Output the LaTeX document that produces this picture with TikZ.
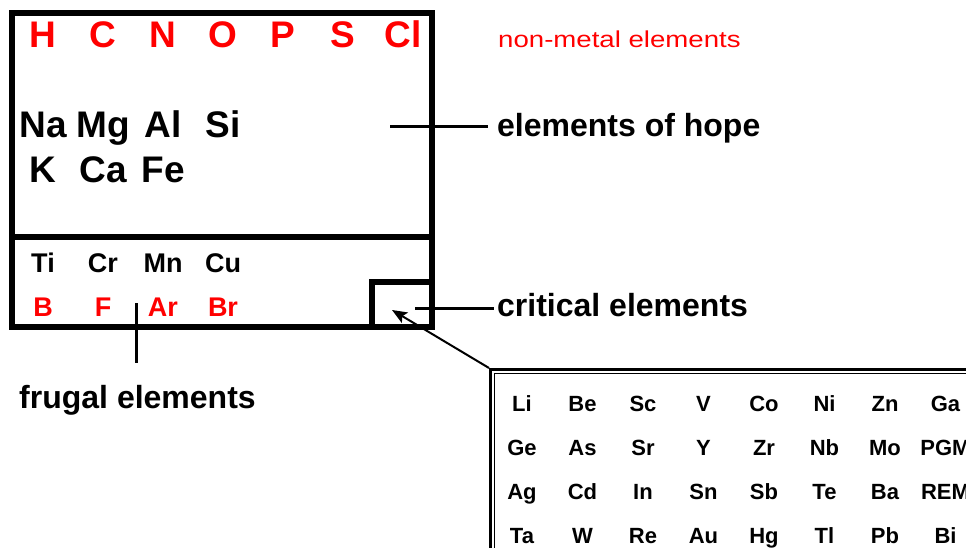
\documentclass[tikz,border=0pt]{standalone}
\usepackage{fontspec}
\setmainfont{Liberation Sans}
\usepackage{xcolor}
\usepackage{tikz}
\usetikzlibrary{arrows.meta,positioning}
\definecolor{NonMetalRed}{RGB}{255, 0, 0}
\tikzstyle{elembox} = [rectangle, draw=black, line width=6pt, inner sep=0pt]
\tikzstyle{callout} = [anchor=base west, inner sep=0pt, font=\fontsize{32}{36}\selectfont\bfseries]
\tikzstyle{bigsym} = [anchor=base, inner sep=0pt, font=\fontsize{37}{40}\selectfont\bfseries]
\tikzstyle{midsym} = [anchor=base, inner sep=0pt, font=\fontsize{27}{30}\selectfont\bfseries]
\tikzstyle{smallsym} = [anchor=base, inner sep=0pt, font=\fontsize{22}{24}\selectfont\bfseries]
\tikzstyle{conn} = [line width=3pt]
\tikzstyle{arrow} = [line width=2pt, -{Stealth[length=15pt, width=12pt, inset=3pt]}]

\begin{document}
\begin{tikzpicture}[x=1pt, y=-1pt]
\useasboundingbox (0,0) rectangle (966,548);
\clip (0,0) rectangle (966,548);

% Cadres
\node (upper) [elembox, minimum width=420pt, minimum height=224pt] at (222,125) {};
\node (lower) [elembox, minimum width=420pt, minimum height=90pt] at (222,282) {};
\node (critbox) [elembox, minimum width=60pt, minimum height=45pt] at (402,304.5) {};

% Non-métaux
\node (H) [bigsym, NonMetalRed] at (43,48) {H};
\node (C) [bigsym, NonMetalRed] at (103,48) {C};
\node (N) [bigsym, NonMetalRed] at (163,48) {N};
\node (O) [bigsym, NonMetalRed] at (223,48) {O};
\node (P) [bigsym, NonMetalRed] at (283,48) {P};
\node (S) [bigsym, NonMetalRed] at (343,48) {S};
\node (Cl) [bigsym, NonMetalRed] at (403,48) {Cl};

% Eléments d'espoir
\node (Na) [bigsym] at (43,138) {Na};
\node (Mg) [bigsym] at (103,138) {Mg};
\node (Al) [bigsym] at (163,138) {Al};
\node (Si) [bigsym] at (223,138) {Si};
\node (K) [bigsym] at (43,183) {K};
\node (Ca) [bigsym] at (103,183) {Ca};
\node (Fe) [bigsym] at (163,183) {Fe};

% Eléments frugaux
\node (Ti) [midsym] at (43,272) {Ti};
\node (Cr) [midsym] at (103,272) {Cr};
\node (Mn) [midsym] at (163,272) {Mn};
\node (Cu) [midsym] at (223,272) {Cu};
\node (B) [midsym, NonMetalRed] at (43,316) {B};
\node (F) [midsym, NonMetalRed] at (103,316) {F};
\node (Ar) [midsym, NonMetalRed] at (163,316) {Ar};
\node (Br) [midsym, NonMetalRed] at (223,316) {Br};

% Légendes
\node (nonmetal) [anchor=base west, inner sep=0pt, NonMetalRed, xscale=1.2, font=\fontsize{23}{26}\selectfont] at (498,48) {non-metal elements};
\node (hope) [callout] at (497,137) {elements of hope};
\node (critical) [callout] at (497,316) {critical elements};
\node (frugal) [callout, anchor=base] at (137.5,408) {frugal elements};

% Eléments critiques
\node (inset) [anchor=north west, draw, line width=2.5pt, inner sep=0pt, minimum width=520pt, minimum height=220pt] at (489,368) {};
\draw [line width=1.5pt] ([xshift=5.5pt, yshift=-5.5pt]inset.north west) rectangle ([xshift=-5.5pt, yshift=5.5pt]inset.south east);
\foreach \row [count=\j from 0] in {{Li,Be,Sc,V,Co,Ni,Zn,Ga},{Ge,As,Sr,Y,Zr,Nb,Mo,PGM},{Ag,Cd,In,Sn,Sb,Te,Ba,REM},{Ta,W,Re,Au,Hg,Tl,Pb,Bi}}
  \foreach \sym [count=\i from 0] in \row
    \node (crit-\j-\i) [smallsym] at ({522+60.5*\i},{411.5+44*\j}) {\sym};

% Flèches
\coordinate (hopept) at (390,127);
\coordinate (critpt) at (415,308);
\coordinate (frugpt) at (136,303);
\coordinate (critarrow) at (392,310);
\draw [conn, shorten >=9pt] (hopept) -- (hopept -| hope.west);
\draw [conn, shorten >=3pt] (critpt) -- (critpt -| critical.west);
\draw [conn, shorten >=22pt] (frugpt) -- (frugpt |- frugal.north);
\draw [arrow] (inset.north west) -- (critarrow);

\end{tikzpicture}
\end{document}
